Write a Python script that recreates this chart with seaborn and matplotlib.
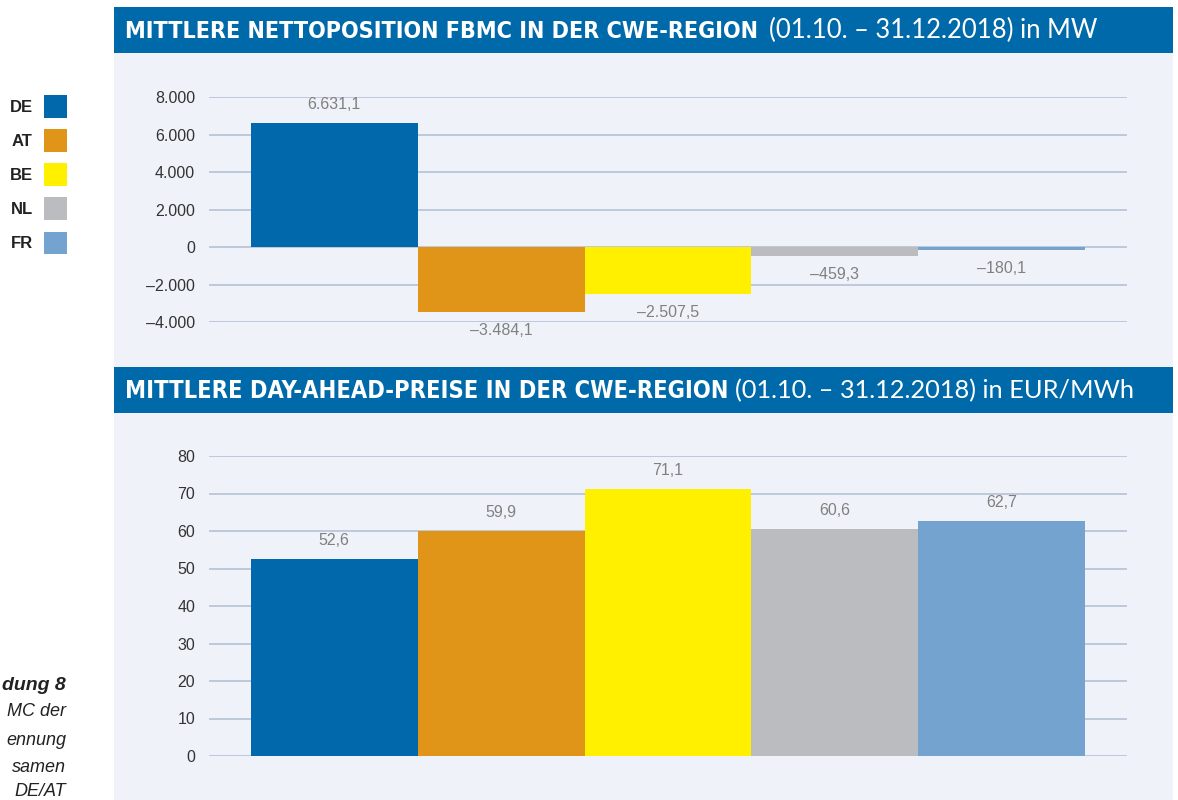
import matplotlib
matplotlib.use("Agg")
import matplotlib.pyplot as plt
import seaborn as sns
from matplotlib.patches import Rectangle, Patch

# data
countries = ["DE", "AT", "BE", "NL", "FR"]
net_position = [6631.1, -3484.1, -2507.5, -459.3, -180.1]
prices = [52.6, 59.9, 71.1, 60.6, 62.7]
colors = ["#0068AB", "#E09418", "#FFF000", "#BBBCC0", "#75A3CF"]

net_ticks = [-4000, -2000, 0, 2000, 4000, 6000, 8000]
price_ticks = [0, 10, 20, 30, 40, 50, 60, 70, 80]

title1_bold = "MITTLERE NETTOPOSITION FBMC IN DER CWE-REGION"
title1_rest = "(01.10. – 31.12.2018) in MW"
title2_bold = "MITTLERE DAY-AHEAD-PREISE IN DER CWE-REGION"
title2_rest = "(01.10. – 31.12.2018) in EUR/MWh"
# caption lines, only the part visible at the left edge
caption = ["dung 8", "MC der", "ennung", "samen", "DE/AT"]

BLUE = "#0069AA"
PANEL = "#EFF3F9"
GRID = "#BAC5D9"
W, H = 1178, 800

sns.set_theme(style="white")
plt.rcParams["font.family"] = ["Liberation Sans", "DejaVu Sans"]


def de_fmt(v, dec=1):
    s = f"{abs(v):,.{dec}f}".replace(",", "X").replace(".", ",").replace("X", ".")
    return ("–" + s) if v < 0 else s


def fx(x):
    return x / W


def fy(y):
    return 1 - y / H


fig = plt.figure(figsize=(W / 100, H / 100), dpi=100)
fig.patch.set_facecolor("white")

# panel background and title bars
fig.patches.append(Rectangle((fx(114), 0), fx(1173) - fx(114), fy(7), transform=fig.transFigure,
                             facecolor=PANEL, edgecolor="none", zorder=-2))
for top in (7, 367):
    fig.patches.append(Rectangle((fx(114), fy(top + 46)), fx(1173) - fx(114), 46 / H,
                                 transform=fig.transFigure, facecolor=BLUE, edgecolor="none", zorder=-1))

renderer = fig.canvas.get_renderer()


def fit_text(x, y, s, width, **kw):
    t = fig.text(fx(x), fy(y), s, va="baseline", ha="left", color="white", **kw)
    bb = t.get_window_extent(renderer)
    t.set_fontsize(t.get_fontsize() * width / bb.width)
    return t


bold_kw = dict(family=["Liberation Sans Narrow", "DejaVu Sans"], fontweight="bold",
               fontstretch="condensed", fontsize=18)
light_kw = dict(family=["Lato", "Open Sans", "DejaVu Sans"], fontweight="normal", fontsize=16)

fit_text(125, 38, title1_bold, 637, **bold_kw)
fit_text(769, 38, title1_rest, 329, **light_kw)
fit_text(125, 398, title2_bold, 602, **bold_kw)
fit_text(735, 398, title2_rest, 400, **light_kw)


def draw_bars(ax, values, ticks, labels, ylim):
    sns.barplot(x=countries, y=values, hue=countries, palette=colors, width=1.0,
                saturation=1, legend=False, ax=ax, edgecolor="none")
    ax.set_xlim(-0.75, 4.75)
    ax.set_ylim(*ylim)
    ax.set_yticks(ticks, labels)
    ax.set_xticks([])
    ax.set_xlabel("")
    ax.set_ylabel("")
    ax.set_facecolor("none")
    ax.grid(axis="y", color=GRID, linewidth=1.3)
    ax.set_axisbelow(True)
    sns.despine(ax=ax, left=True, bottom=True)
    ax.tick_params(axis="y", length=0, pad=10, labelsize=11.5, labelcolor="#333333")
    for c in ax.containers:
        ax.bar_label(c, labels=[de_fmt(b.get_height()) for b in c], padding=8,
                     fontsize=11.5, color="#808080")


ax1 = fig.add_axes([fx(209), fy(322), 918 / W, 225 / H])
draw_bars(ax1, net_position, net_ticks, [de_fmt(t, 0) for t in net_ticks], (-4000, 8000))

ax2 = fig.add_axes([fx(209), fy(756), 918 / W, 300 / H])
draw_bars(ax2, prices, price_ticks, [str(t) for t in price_ticks], (0, 80))

# legend on the left
handles = [Patch(facecolor=c, edgecolor="none") for c in colors]
fig.legend(handles, countries, loc="upper right", bbox_to_anchor=(fx(67), fy(95)),
           markerfirst=False, frameon=False, borderpad=0, borderaxespad=0,
           prop=dict(size=12, weight="bold"), labelcolor="#222222",
           handlelength=1.38, handleheight=1.73, labelspacing=0.68, handletextpad=0.68)

# caption cut off at the left edge
cap_y = [690, 716, 745, 772, 796]
for i, (line, y) in enumerate(zip(caption, cap_y)):
    fig.text(fx(66), fy(y), line, ha="right", va="baseline", style="italic",
             fontweight="bold" if i == 0 else "normal", fontsize=14 if i == 0 else 13,
             color="#222222")

fig.savefig("out.png", dpi=100, facecolor="white")
